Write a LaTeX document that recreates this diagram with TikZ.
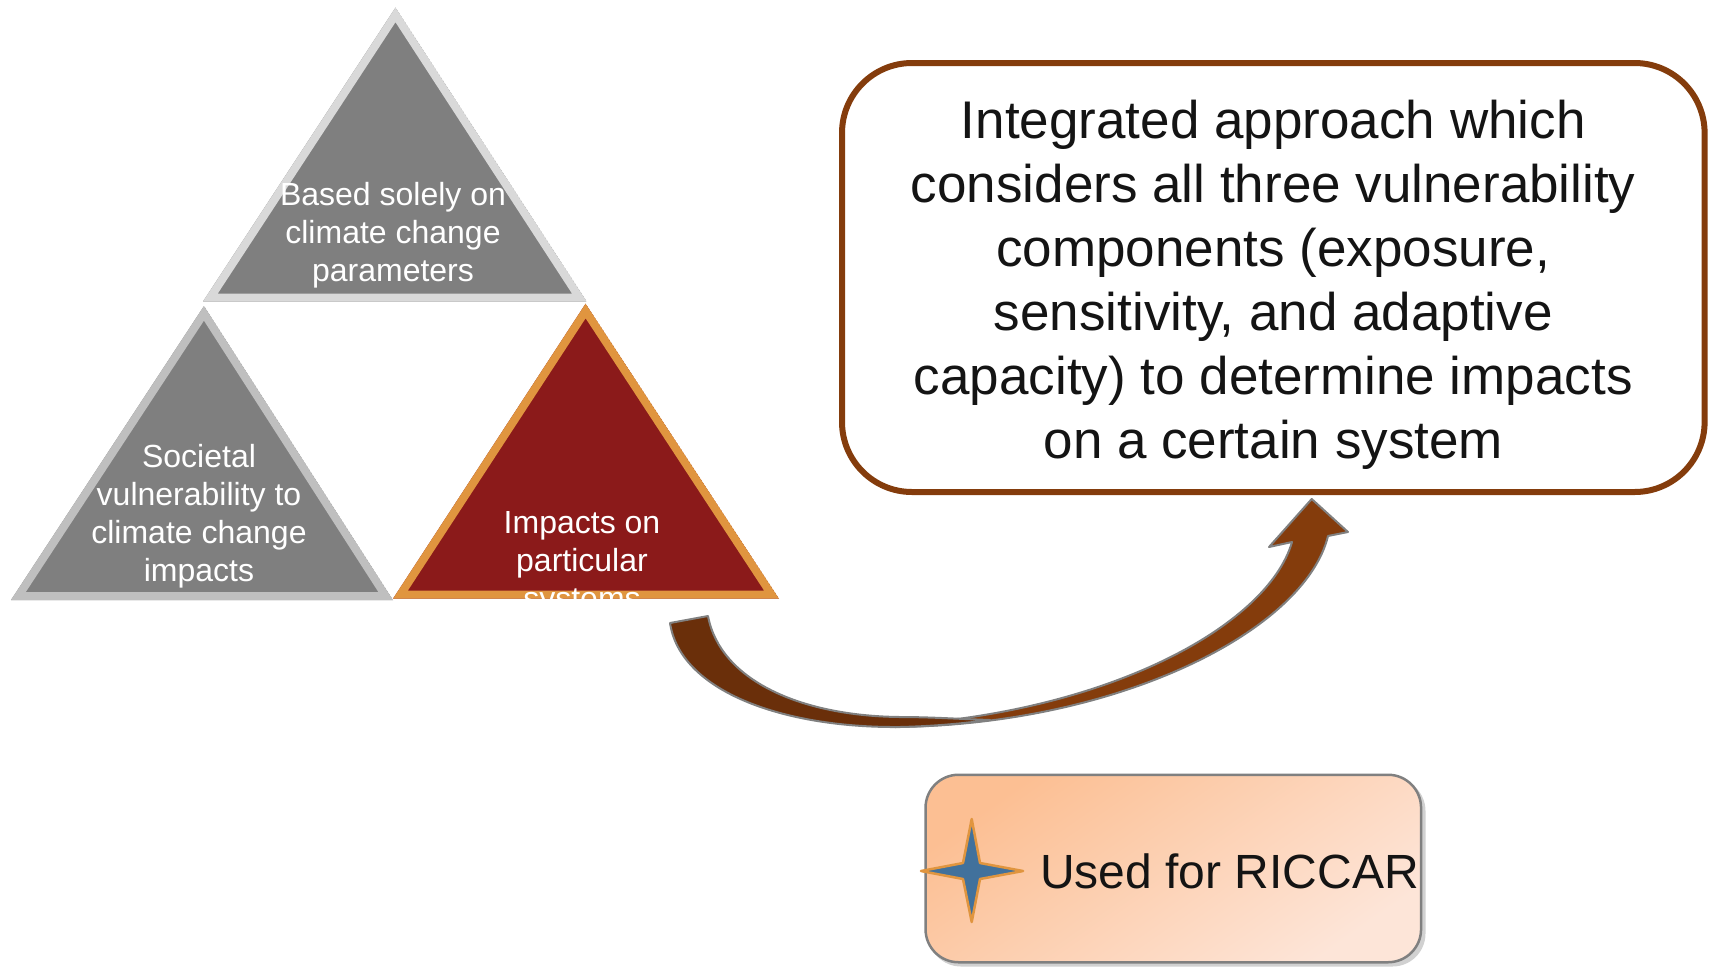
\documentclass[tikz,border=0pt]{standalone}
\usepackage{fontspec}
\setmainfont{Liberation Sans}
\definecolor{trigray}{HTML}{7F7F7F}
\definecolor{topborder}{HTML}{D9D9D9}
\definecolor{leftborder}{HTML}{BFBFBF}
\definecolor{impred}{HTML}{8B1A1A}
\definecolor{orangeb}{HTML}{E0953F}
\definecolor{boxbrown}{HTML}{843C0C}
\definecolor{arrowdark}{HTML}{6A2F0A}
\definecolor{edgegray}{HTML}{808080}
\definecolor{peachA}{HTML}{FCBF93}
\definecolor{peachB}{HTML}{FDE5D8}
\definecolor{starblue}{HTML}{41719C}
\definecolor{textdark}{HTML}{141414}
\tikzset{
  tritext/.style={text=white, align=center, font=\fontsize{32}{38}\selectfont, inner sep=0pt},
  bigbox/.style={draw=boxbrown, line width=6pt, rounded corners=70pt, fill=white,
    minimum width=862.6pt, minimum height=429pt, align=center, text=textdark,
    font=\fontsize{53}{64}\selectfont, inner sep=0pt},
  legendbox/.style={draw=edgegray, line width=2.5pt, rounded corners=33pt,
    minimum width=495.5pt, minimum height=187.5pt, inner sep=0pt,
    shading=axis, top color=peachA, bottom color=peachB, shading angle=35},
  arrowpart/.style={draw=edgegray, line width=2pt, line join=round},
}
\begin{document}
\begin{tikzpicture}[x=1pt,y=-1pt]
\useasboundingbox (0,0) rectangle (1713,967);

% top triangle
\begin{scope}
  \clip (395.5,7.6) -- (203,301.5) -- (586.7,301.5) -- cycle;
  \fill[trigray] (395.5,7.6) -- (203,301.5) -- (586.7,301.5) -- cycle;
  \draw[topborder, line width=16pt, line join=miter] (395.5,7.6) -- (203,301.5) -- (586.7,301.5) -- cycle;
  \node[tritext] (t1) at (393,235) {Based solely on\\climate change\\parameters};
\end{scope}

% left triangle
\begin{scope}
  \clip (204,306) -- (11,600) -- (393,600) -- cycle;
  \fill[trigray] (204,306) -- (11,600) -- (393,600) -- cycle;
  \draw[leftborder, line width=16pt, line join=miter] (204,306) -- (11,600) -- (393,600) -- cycle;
  \node[tritext] (t2) at (199,516) {Societal\\vulnerability to\\climate change\\impacts};
\end{scope}

% right triangle
\begin{scope}
  \clip (585.6,303.7) -- (393,598.7) -- (779,598.7) -- cycle;
  \fill[impred] (585.6,303.7) -- (393,598.7) -- (779,598.7) -- cycle;
  \draw[orangeb, line width=16pt, line join=miter] (585.6,303.7) -- (393,598.7) -- (779,598.7) -- cycle;
  \node[tritext] (t3) at (582,564) {Impacts on\\particular\\systems};
\end{scope}

% big box
\node[bigbox] (integ) at (1273.3,277.5) {};
\node[align=center, text=textdark, font=\fontsize{53}{64}\selectfont, inner sep=0pt] (integtext) at (1273.3,285) {Integrated approach which\\considers all three vulnerability\\components (exposure,\\sensitivity, and adaptive\\capacity) to determine impacts\\on a certain system};

% curved arrow: front (light) band with head
\path[arrowpart, fill=boxbrown]
  (895,725) .. controls (1110,712) and (1268,625) .. (1292,542)
  -- (1269,547) -- (1311.7,499) -- (1348,532) -- (1328,536)
  .. controls (1305,630) and (1120,725) .. (895,727) -- cycle;
% back (dark) band
\path[arrowpart, fill=arrowdark]
  (670,623) .. controls (680,690) and (780,728) .. (900,727)
  .. controls (940,726) and (965,723) .. (990,720)
  .. controls (960,719) and (930,717) .. (900,717)
  .. controls (800,716) and (720,680) .. (708,616) -- cycle;

% legend box
\fill[black, opacity=0.18, rounded corners=33pt] (928,778) rectangle (1425.5,966.5);
\node[legendbox] (legend) at (1173.3,868.5) {};
\draw[orangeb, fill=starblue, line width=2.5pt, line join=round]
  (971.7,819) -- (980,863) -- (1023,871) -- (980,879) -- (971.7,922)
  -- (963,879) -- (921,871) -- (963,863) -- cycle;
\node[anchor=base west, inner sep=0pt, text=textdark, font=\fontsize{48}{58}\selectfont] (riccar) at (1040,888) {Used for RICCAR};
\end{tikzpicture}
\end{document}
